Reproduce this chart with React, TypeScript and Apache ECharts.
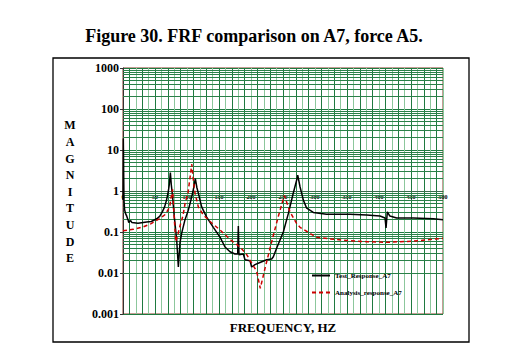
import React, { useEffect, useRef } from "react";
import * as echarts from "echarts";

// ---- data ----
const testFreq = [0, 0.5, 1.5, 2.5, 4, 6, 7.8, 9, 10.4, 12, 14, 23.4, 37, 44.3, 52.6, 57.3, 61, 65, 68, 70.3, 72.5, 74, 75.5, 77.6, 80, 83.9, 86.5, 89, 91.7, 96.9, 102, 107.3, 110.5, 113, 115.5, 117.7, 122.9, 130.7, 141.1, 151.6, 159.4, 167.2, 175, 179.2, 180.2, 181.2, 188, 190.6, 198.4, 201, 206.2, 214, 224.5, 232.3, 234.9, 240, 250.5, 258.3, 266, 271.4, 273, 276.6, 281.8, 287, 297.4, 318, 354.7, 380.7, 401.6, 409.4, 411, 413, 417, 427.6, 453.6, 485, 500];
const testMag = [0.6, 19, 0.6, 0.35, 0.28, 0.24, 0.2, 0.17, 0.18, 0.19, 0.17, 0.163, 0.175, 0.18, 0.21, 0.24, 0.3, 0.41, 0.6, 0.88, 1.5, 2.8, 1.4, 0.7, 0.25, 0.063, 0.014, 0.054, 0.094, 0.2, 0.34, 0.71, 1.2, 2.0, 1.2, 0.89, 0.41, 0.23, 0.13, 0.075, 0.043, 0.033, 0.029, 0.029, 0.14, 0.028, 0.029, 0.021, 0.02, 0.014, 0.016, 0.018, 0.021, 0.022, 0.025, 0.04, 0.1, 0.28, 0.88, 1.85, 2.45, 1.27, 0.6, 0.38, 0.3, 0.27, 0.27, 0.26, 0.245, 0.22, 0.125, 0.31, 0.245, 0.22, 0.22, 0.21, 0.2];

const analysisFreq = [0, 16, 31.8, 44, 57.8, 65, 69, 73, 75.5, 77.5, 79.5, 82.5, 86, 89, 93.7, 97, 101.6, 104.5, 107.5, 110, 112.5, 117.7, 125.5, 136, 151.6, 167.2, 182.8, 193.3, 203.6, 208.9, 214.5, 221.9, 232.3, 242.7, 252, 261, 271.4, 276.6, 292, 302.6, 323, 349.5, 380.7, 412, 453.6, 500];
const analysisMag = [0.107, 0.116, 0.134, 0.16, 0.215, 0.26, 0.32, 0.41, 0.75, 1.1, 0.3, 0.058, 0.09, 0.14, 0.25, 0.5, 0.9, 2.0, 4.5, 1.8, 0.89, 0.41, 0.26, 0.18, 0.112, 0.066, 0.043, 0.028, 0.015, 0.011, 0.0042, 0.013, 0.058, 0.24, 0.78, 0.31, 0.16, 0.13, 0.093, 0.074, 0.068, 0.062, 0.058, 0.056, 0.06, 0.07];

const xLabelStep = 50;
const yTickLabels = ["0.001", "0.01", "0.1", "1", "10", "100", "1000"];
const seriesNames = ["Test_Response_A7", "Analysis_response_A7"];

const SERIF = '"Liberation Serif", "DejaVu Serif", serif';

export default function App() {
  const ref = useRef<HTMLDivElement>(null);
  useEffect(() => {
    if (!ref.current) return;
    const chart = echarts.init(ref.current, undefined, { renderer: "svg" });

    const minorGrid: { yAxis: number }[] = [];
    for (let e = -3; e < 3; e++) {
      for (let m = 2; m <= 9; m++) minorGrid.push({ yAxis: m * Math.pow(10, e) });
    }

    chart.setOption({
      animation: false,
      backgroundColor: "#fff",
      title: {
        text: "Figure 30. FRF comparison on A7, force A5.",
        left: "center",
        top: 22,
        textStyle: { fontFamily: SERIF, fontWeight: "bold", fontSize: 18, color: "#000" },
      },
      grid: {
        left: 123,
        top: 68,
        right: 65,
        bottom: 38,
        show: true,
        borderColor: "#8b3a2a",
        borderWidth: 1,
        backgroundColor: "transparent",
      },
      legend: {
        orient: "vertical",
        left: 306,
        top: 267,
        itemWidth: 18,
        itemHeight: 8,
        itemGap: 10,
        data: seriesNames,
        itemStyle: { opacity: 0 },
        lineStyle: { width: 2 },
        textStyle: { fontFamily: SERIF, fontSize: 7, fontWeight: "bold", color: "#000" },
      },
      xAxis: {
        type: "value",
        min: 0,
        max: 500,
        interval: 10,
        position: "bottom",
        offset: -123,
        axisLine: { show: true, lineStyle: { color: "#3a6a4a", width: 1 } },
        axisTick: { show: false },
        axisLabel: {
          margin: 3,
          fontFamily: SERIF,
          fontSize: 6,
          fontWeight: "bold",
          color: "#000",
          formatter: (v: number) => (v % xLabelStep === 0 ? String(v) : ""),
        },
        splitLine: { show: true, lineStyle: { color: ["#8cc79c", "#1f7a40"], width: 1 } },
      },
      yAxis: {
        type: "log",
        logBase: 10,
        min: 0.001,
        max: 1000,
        axisLine: { show: true, lineStyle: { color: "#333", width: 1 } },
        axisTick: { show: true, length: 3, lineStyle: { color: "#333" } },
        axisLabel: {
          margin: 4,
          fontFamily: SERIF,
          fontSize: 12,
          fontWeight: "bold",
          color: "#000",
          formatter: (v: number) => yTickLabels[Math.round(Math.log10(v)) + 3] ?? "",
        },
        splitLine: { show: true, lineStyle: { color: "#1f7a40", width: 1 } },
      },
      series: [
        {
          type: "line",
          name: "grid",
          data: [],
          silent: true,
          z: 1,
          markLine: {
            silent: true,
            z: 1,
            symbol: ["none", "none"],
            label: { show: false },
            emphasis: { disabled: true },
            lineStyle: { color: "#2a8048", type: "solid", width: 1 },
            data: minorGrid,
          },
        },
        {
          type: "line",
          name: seriesNames[0],
          data: testFreq.map((f, i) => [f, testMag[i]]),
          symbol: "none",
          z: 4,
          lineStyle: { color: "#000", width: 1.5 },
          itemStyle: { color: "#000" },
        },
        {
          type: "line",
          name: seriesNames[1],
          data: analysisFreq.map((f, i) => [f, analysisMag[i]]),
          symbol: "none",
          z: 4,
          lineStyle: { color: "#cc0000", width: 1.5, type: [4, 3] },
          itemStyle: { color: "#cc0000" },
        },
      ],
      graphic: [
        {
          type: "rect",
          shape: { x: 53, y: 58, width: 416, height: 284 },
          style: { fill: "none", stroke: "#000", lineWidth: 1.3 },
          silent: true,
        },
        {
          type: "text",
          x: 70,
          y: 117,
          style: {
            text: "MAGNITUDE".split("").join("\n"),
            font: `bold 12px ${SERIF}`,
            lineHeight: 16.6,
            textAlign: "center",
            textVerticalAlign: "top",
            fill: "#000",
          },
        },
        {
          type: "text",
          x: 283,
          y: 327,
          style: {
            text: "FREQUENCY, HZ",
            font: `bold 13px ${SERIF}`,
            textAlign: "center",
            textVerticalAlign: "middle",
            fill: "#000",
          },
        },
      ],
    });
    return () => chart.dispose();
  }, []);
  return (
    <div
      ref={ref}
      style={{ position: "fixed", left: 0, top: 0, width: 508, height: 352 }}
    />
  );
}
